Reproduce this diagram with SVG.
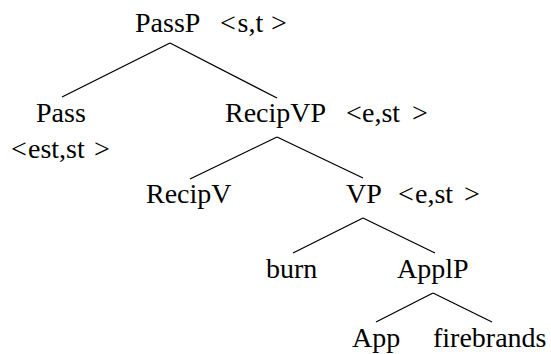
<svg xmlns="http://www.w3.org/2000/svg" width="551" height="354" viewBox="0 0 551 354">
<style>
text{font-family:"Liberation Serif","Times New Roman",serif;font-size:28px;fill:#000}
.e line{stroke:#000;stroke-width:1.3;fill:none}
</style>
<rect width="551" height="354" fill="#fff"/>
<g id="connectors" class="e">
<line x1="170" y1="43" x2="62" y2="97"/>
<line x1="170" y1="43" x2="277" y2="98"/>
<line x1="277" y1="137" x2="190" y2="179"/>
<line x1="277" y1="137" x2="363" y2="178"/>
<line x1="363" y1="218" x2="293" y2="253"/>
<line x1="363" y1="218" x2="435" y2="253"/>
<line x1="433" y1="293" x2="376" y2="322"/>
<line x1="433" y1="293" x2="492" y2="322"/>
</g>
<g id="PassP"><text x="135" y="32">PassP</text><text x="220" y="32">&lt;<tspan x="237.5">s,t</tspan><tspan x="271">&gt;</tspan></text></g>
<g id="Pass"><text x="36" y="122">Pass</text><text x="11" y="158">&lt;<tspan x="28">est,st</tspan><tspan x="94">&gt;</tspan></text></g>
<g id="RecipVP"><text x="225" y="122">RecipVP</text><text x="346" y="122">&lt;<tspan x="362">e,st</tspan><tspan x="412">&gt;</tspan></text></g>
<g id="RecipV"><text x="146" y="203">RecipV</text></g>
<g id="VP"><text x="346" y="203">VP</text><text x="398" y="203">&lt;<tspan x="415">e,st</tspan><tspan x="464">&gt;</tspan></text></g>
<g id="burn"><text x="266" y="278">burn</text></g>
<g id="ApplP"><text x="397" y="278">ApplP</text></g>
<g id="App"><text x="352" y="347">App</text></g>
<g id="firebrands"><text x="433" y="347">firebrands</text></g>
</svg>
